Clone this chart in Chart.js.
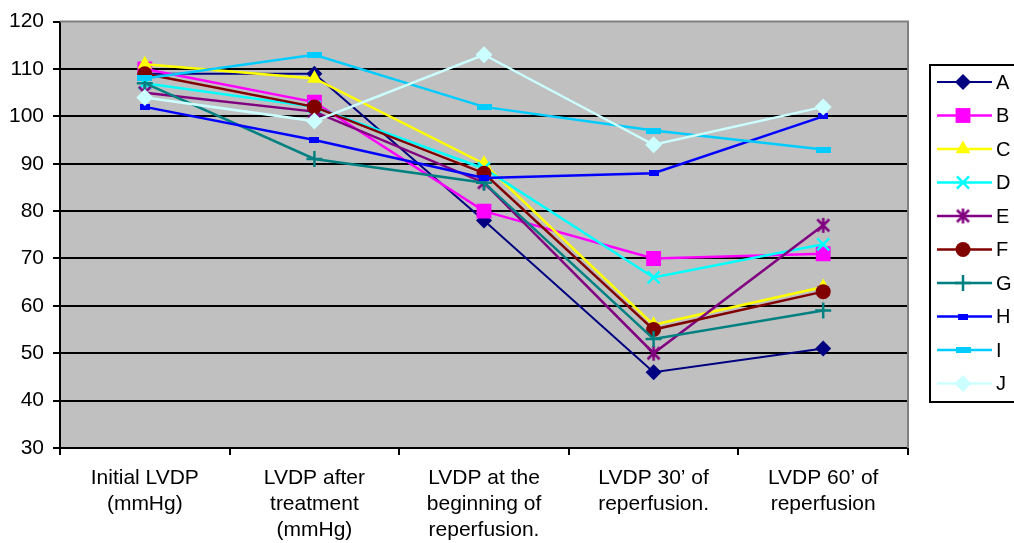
<!DOCTYPE html>
<html>
<head>
<meta charset="utf-8">
<script src="https://cdn.jsdelivr.net/npm/chart.js@4/dist/chart.umd.min.js"></script>
<style>
	body { margin: 0; background: #fff; }
	#wrap { width: 1014px; height: 543px; }
</style>
</head>
<body>
<div id="wrap"><canvas id="chart" width="1014" height="543"></canvas></div>
<script>
var categories = [
	["Initial LVDP", "(mmHg)"],
	["LVDP after", "treatment", "(mmHg)"],
	["LVDP at the", "beginning of", "reperfusion."],
	["LVDP 30\u2019 of", "reperfusion."],
	["LVDP 60\u2019 of", "reperfusion"]
];
var seriesNames = ["A", "B", "C", "D", "E", "F", "G", "H", "I", "J"];
var valuesA = [109, 109, 78, 46, 51];
var valuesB = [110, 103, 80, 70, 71];
var valuesC = [111, 108, 90, 56, 64];
var valuesD = [107, 102, 89, 66, 73];
var valuesE = [105, 101, 86, 50, 77];
var valuesF = [109, 102, 88, 55, 63];
var valuesG = [107, 91, 86, 53, 59];
var valuesH = [102, 95, 87, 88, 100];
var valuesI = [108, 113, 102, 97, 93];
var valuesJ = [104, 99, 113, 94, 102];
var yTicks = [30, 40, 50, 60, 70, 80, 90, 100, 110, 120];

//small horizontal bar markers for H and I
function barMarker(w, h, color) {
	var c = document.createElement('canvas');
	c.width = w;
	c.height = h;
	var g = c.getContext('2d');
	g.fillStyle = color;
	g.fillRect(0, 0, w, h);
	return c;
}

//six-armed asterisk for E
function asteriskMarker(size, color) {
	var c = document.createElement('canvas');
	c.width = size;
	c.height = size;
	var g = c.getContext('2d');
	var m = size / 2, r = size / 2 - 1;
	g.strokeStyle = color;
	g.lineWidth = 2.5;
	g.beginPath();
	g.moveTo(m, m - r); g.lineTo(m, m + r);
	g.moveTo(m - r * 0.8, m - r * 0.8); g.lineTo(m + r * 0.8, m + r * 0.8);
	g.moveTo(m + r * 0.8, m - r * 0.8); g.lineTo(m - r * 0.8, m + r * 0.8);
	g.stroke();
	return c;
}

var styles = [
	{color: '#000080', point: 'rectRot', radius: 8},
	{color: '#FF00FF', point: 'rect', radius: 10.5},
	{color: '#FFFF00', point: 'triangle', radius: 8.5},
	{color: '#00FFFF', point: 'crossRot', radius: 8.5},
	{color: '#800080', point: asteriskMarker(17, '#800080'), radius: 8},
	{color: '#800000', point: 'circle', radius: 7.5},
	{color: '#008080', point: 'cross', radius: 8},
	{color: '#0000FF', point: barMarker(10, 6, '#0000FF'), radius: 5},
	{color: '#00CCFF', point: barMarker(15, 6, '#00CCFF'), radius: 7},
	{color: '#CCFFFF', point: 'rectRot', radius: 8.5}
];
var allValues = [valuesA, valuesB, valuesC, valuesD, valuesE, valuesF, valuesG, valuesH, valuesI, valuesJ];

var datasets = [];
for (var i = 0; i < seriesNames.length; i++) {
	var s = styles[i];
	var line = (s.point === 'cross' || s.point === 'crossRot');
	datasets.push({
		label: seriesNames[i],
		data: allValues[i],
		borderColor: s.color,
		backgroundColor: s.color,
		borderWidth: i === 0 ? 2 : 2.5,
		pointStyle: s.point,
		pointRadius: s.radius,
		pointHoverRadius: s.radius,
		pointBackgroundColor: s.color,
		pointBorderColor: s.color,
		pointBorderWidth: line ? 2.5 : 0,
		tension: 0,
		order: 10 - i
	});
}

//plot background and gray frame
var plotFrame = {
	id: 'plotFrame',
	beforeDraw: function(chart) {
		var a = chart.chartArea, ctx = chart.ctx;
		ctx.save();
		ctx.fillStyle = '#C0C0C0';
		ctx.fillRect(a.left, a.top, a.right - a.left, a.bottom - a.top);
		ctx.restore();
	},
	afterDraw: function(chart) {
		var a = chart.chartArea, ctx = chart.ctx;
		ctx.save();
		ctx.strokeStyle = '#808080';
		ctx.lineWidth = 2;
		ctx.beginPath();
		ctx.moveTo(a.left, a.top);
		ctx.lineTo(a.right, a.top);
		ctx.lineTo(a.right, a.bottom);
		ctx.stroke();
		ctx.restore();
	}
};

//legend box on the right, line + marker per series
var sideLegend = {
	id: 'sideLegend',
	afterDraw: function(chart) {
		var ctx = chart.ctx;
		var x0 = 930, y0 = 65, h = 337;
		ctx.save();
		ctx.fillStyle = '#fff';
		ctx.fillRect(x0, y0, 100, h);
		ctx.strokeStyle = '#000';
		ctx.lineWidth = 2;
		ctx.strokeRect(x0, y0, 100, h);
		ctx.font = '20px "Liberation Sans", Arial, sans-serif';
		ctx.textBaseline = 'middle';
		for (var i = 0; i < datasets.length; i++) {
			var d = datasets[i];
			var y = 82 + i * 33.5;
			ctx.strokeStyle = d.borderColor;
			ctx.lineWidth = d.borderWidth;
			ctx.beginPath();
			ctx.moveTo(937, y);
			ctx.lineTo(992, y);
			ctx.stroke();
			ctx.fillStyle = d.borderColor;
			ctx.lineWidth = d.pointBorderWidth;
			Chart.helpers.drawPoint(ctx, {
				pointStyle: d.pointStyle,
				radius: d.pointRadius,
				rotation: 0,
				borderWidth: d.pointBorderWidth
			}, 963, y);
			ctx.fillStyle = '#000';
			ctx.fillText(d.label, 996, y + 1);
		}
		ctx.restore();
	}
};

var font = {family: '"Liberation Sans", Arial, sans-serif', size: 21};

var chart = new Chart(document.getElementById('chart'), {
	type: 'line',
	data: {labels: categories, datasets: datasets},
	options: {
		responsive: false,
		animation: false,
		devicePixelRatio: 1,
		layout: {padding: {left: 0, top: 21, right: 106, bottom: 0}},
		plugins: {legend: {display: false}, tooltip: {enabled: false}},
		scales: {
			x: {
				type: 'category',
				offset: true,
				grid: {offset: true, drawOnChartArea: false, color: '#000', tickLength: 7, lineWidth: 2},
				border: {display: true, color: '#000', width: 2},
				ticks: {color: '#000', font: {family: font.family, size: 21, lineHeight: 1.24}, maxRotation: 0, autoSkip: false, padding: 10},
				afterFit: function(scale) { scale.height = 95; }
			},
			y: {
				min: 30,
				max: 120,
				afterBuildTicks: function(scale) {
					scale.ticks = yTicks.map(function(v) { return {value: v}; });
				},
				grid: {
					color: function(c) { return c.tick && c.tick.value === 120 ? 'rgba(0,0,0,0)' : '#000'; },
					lineWidth: 2,
					tickLength: 7,
					tickColor: '#000'
				},
				border: {display: true, color: '#000', width: 2},
				ticks: {color: '#000', font: font, padding: 9},
				afterFit: function(scale) { scale.width = 60; }
			}
		}
	},
	plugins: [plotFrame, sideLegend]
});
</script>
</body>
</html>
